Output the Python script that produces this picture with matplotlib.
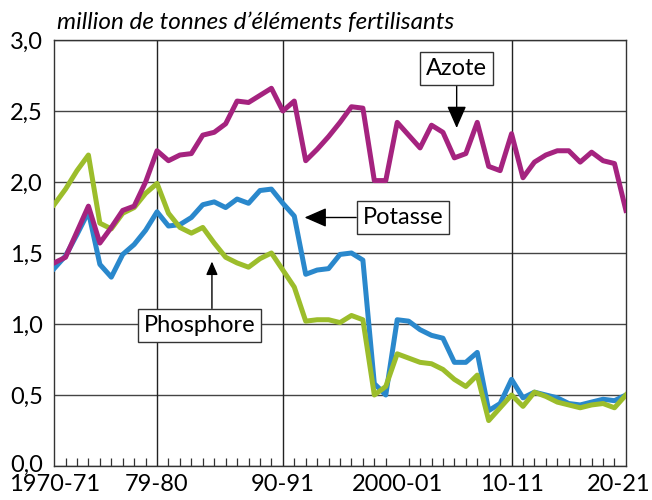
import matplotlib.pyplot as plt
from matplotlib.transforms import ScaledTranslation

plt.rcParams['font.family'] = ['Lato', 'DejaVu Sans']

years = list(range(1970, 2021))

azote = [1.43, 1.47, 1.65, 1.83, 1.57, 1.68, 1.80, 1.83, 2.00, 2.22,
         2.15, 2.19, 2.20, 2.33, 2.35, 2.41, 2.57, 2.56, 2.61, 2.66,
         2.50, 2.57, 2.15, 2.23, 2.32, 2.42, 2.53, 2.52, 2.01, 2.01,
         2.42, 2.33, 2.24, 2.40, 2.35, 2.17, 2.20, 2.42, 2.11, 2.08,
         2.34, 2.03, 2.14, 2.19, 2.22, 2.22, 2.14, 2.21, 2.15, 2.13,
         1.80]

potasse = [1.39, 1.48, 1.63, 1.79, 1.42, 1.33, 1.49, 1.56, 1.66, 1.79,
           1.69, 1.70, 1.75, 1.84, 1.86, 1.82, 1.88, 1.85, 1.94, 1.95,
           1.85, 1.76, 1.35, 1.38, 1.39, 1.49, 1.50, 1.45, 0.58, 0.50,
           1.03, 1.02, 0.96, 0.92, 0.90, 0.73, 0.73, 0.80, 0.39, 0.44,
           0.61, 0.48, 0.52, 0.50, 0.48, 0.44, 0.43, 0.45, 0.47, 0.46,
           0.50]

phosphore = [1.84, 1.95, 2.08, 2.19, 1.71, 1.67, 1.78, 1.82, 1.92, 1.99,
             1.78, 1.68, 1.64, 1.68, 1.57, 1.47, 1.43, 1.40, 1.46, 1.50,
             1.38, 1.26, 1.02, 1.03, 1.03, 1.01, 1.06, 1.03, 0.50, 0.56,
             0.79, 0.76, 0.73, 0.72, 0.68, 0.61, 0.56, 0.64, 0.32, 0.41,
             0.50, 0.42, 0.52, 0.49, 0.45, 0.43, 0.41, 0.43, 0.44, 0.41,
             0.50]

tick_years = [1970, 1979, 1990, 2000, 2010, 2020]
tick_labels = ["1970-71", "79-80", "90-91", "2000-01", "10-11", "20-21"]
y_ticks = [0, 0.5, 1.0, 1.5, 2.0, 2.5, 3.0]
y_labels = ["0,0", "0,5", "1,0", "1,5", "2,0", "2,5", "3,0"]

fig = plt.figure(figsize=(6.52, 5.0), dpi=100)
ax = fig.add_axes([0.083, 0.068, 0.877, 0.852])

# grid
for y in y_ticks:
    ax.axhline(y, color="#444444", lw=1.0, zorder=1)
for x in [1979, 1990, 2010]:
    ax.axvline(x, color="#222222", lw=1.0, zorder=1)

ax.plot(years, potasse, color="#2A88CC", lw=3.6, zorder=3)
ax.plot(years, phosphore, color="#9CBD2B", lw=3.6, zorder=4)
ax.plot(years, azote, color="#A5237F", lw=3.6, zorder=5)

ax.set_xlim(1970, 2020)
ax.set_ylim(0, 3.0)
ax.set_yticks(y_ticks)
ax.set_yticklabels(y_labels)
ax.set_xticks(tick_years)
ax.set_xticklabels(tick_labels)
ax.set_xticks(years, minor=True)
ax.tick_params(axis="y", length=0, pad=8, labelsize=17)
ax.tick_params(axis="x", which="major", length=0, pad=6, labelsize=17)
ax.tick_params(axis="x", which="minor", direction="in", length=6, width=0.9, color="#333333")
for s in ax.spines.values():
    s.set_color("#333333")
    s.set_linewidth(1.0)

# last label sits a little to the left in the original
last = ax.get_xticklabels()[-1]
last.set_transform(last.get_transform() + ScaledTranslation(-7 / 100, 0, fig.dpi_scale_trans))
# lift the "0,0" label a touch so it clears the year label below
first = ax.get_yticklabels()[0]
first.set_transform(first.get_transform() + ScaledTranslation(0, 3 / 100, fig.dpi_scale_trans))

fig.text(0.087, 0.955, "million de tonnes d\u2019éléments fertilisants",
         fontsize=17.5, style="italic", va="center", ha="left")

box = dict(boxstyle="square,pad=0.25", fc="white", ec="#333333", lw=1.0)
arrow = dict(arrowstyle="-|>,head_length=0.8,head_width=0.35", color="black", lw=1.0,
             shrinkA=0, shrinkB=0)

ax.annotate("Azote", xy=(2005.2, 2.38), xytext=(2005.2, 2.80), fontsize=17,
            ha="center", va="center", bbox=box, arrowprops=arrow, zorder=6)
ax.annotate("Potasse", xy=(1991.9, 1.75), xytext=(2000.5, 1.75), fontsize=17,
            ha="center", va="center", bbox=box, arrowprops=arrow, zorder=6)
ax.text(1982.7, 0.99, "Phosphore", fontsize=17, ha="center", va="center",
        bbox=box, zorder=6)
ax.annotate("", xy=(1983.8, 1.44), xytext=(1983.8, 1.11), arrowprops=arrow, zorder=6)

fig.savefig("out.png", dpi=100)
